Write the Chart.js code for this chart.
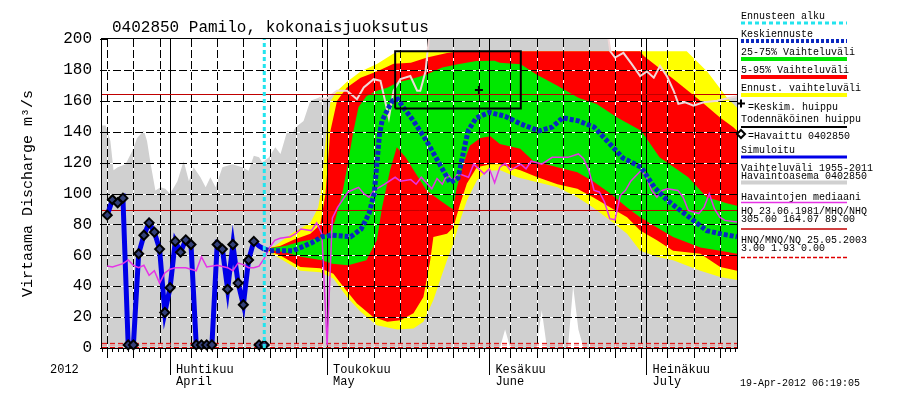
<!DOCTYPE html>
<html>
<head>
<meta charset="utf-8">
<script src="https://cdn.jsdelivr.net/npm/chart.js@4.4.0/dist/chart.umd.min.js"></script>
<style>
  html, body { margin: 0; padding: 0; background: #fff; }
  #wrap { width: 900px; height: 400px; }
</style>
</head>
<body>
<div id="wrap"><canvas id="chart" width="900" height="400"></canvas></div>
<script>
// 0402850 Pamilo, kokonaisjuoksutus - ennuste 19.4.2012
// x axis = days from 1 April 2012 (negative values are March)

const xMin = -13
const xMax = 108.3
const forecastStart = 18

const monthStarts = [0, 30, 61, 91]
const monthLabels = [['Huhtikuu', 'April'], ['Toukokuu', 'May'], ['Kesäkuu', 'June'], ['Heinäkuu', 'July']]
const gridDays = [-12, -7, -2, 4, 9, 14, 19, 24, 29, 34, 39, 44, 49, 54, 59, 65, 70, 75, 80, 85, 90, 95, 100, 105]
const yTicks = [0, 20, 40, 60, 80, 100, 120, 140, 160, 180, 200]

// Vaihteluväli 1955-2011 (max / min)
const histMaxDays = [-13, -12.3, -11.4, -10.8, -10, -8.5, -7.2, -6.3, -5, -4.4, -3.7, -2.8, -1.8, -0.9, 0, 1.4, 2.6, 3.6, 4.5, 5.8,
  6.8, 7.7, 8.7, 10, 11.9, 13.8, 15, 16, 17, 17.6, 18.9, 20.1, 21.1, 22.4, 23.3, 24, 25.5, 26.8, 28.4, 29.7,
  31.9, 33.8, 35.7, 37, 38.9, 40.2, 41.8, 42.7, 44, 45.9, 47.2, 47.8, 48.8, 49.4, 50.1, 55, 62, 70, 78, 83.1,
  84.1, 85, 86.6, 88.2, 89.8, 91.1, 92.4, 93.6, 94.9, 96.2, 97.1, 98.4, 100, 101.9, 104.5, 107, 108.3]
const histMaxValues = [144, 144, 134, 115, 117, 119, 127.7, 136, 140.6, 134, 119, 102, 104, 103, 99.7, 108, 121, 108, 117, 110.5,
  104, 110.5, 104, 117, 119, 117, 114.8, 124.5, 123.4, 120, 123.4, 130, 125.6, 140.6, 138.5, 142.8, 147, 160, 162, 161,
  166.5, 166.5, 161, 168.6, 174, 173, 149, 166.5, 174, 176, 166.5, 166.5, 179, 198.7, 215, 245, 270, 250, 235, 215,
  192, 188, 191, 183.7, 176, 179, 175, 182.6, 176, 166.5, 158, 159, 156.8, 159, 160, 162, 163]
const histMinDays = [-13, 63, 64, 65, 70, 71, 72, 76, 77, 78, 79, 108.3]
const histMinValues = [0, 0, 12, 0, 0, 24.5, 0, 0, 40, 12, 0, 0]

// Ennust. vaihteluväli
const yellowHiDays = [18, 20, 21.5, 23.6, 26.8, 28.3, 29, 29.6, 30.2, 30.7, 31.8, 33.7, 36.4, 39.6, 42.7, 44.6, 98.7, 102.6, 106.4, 108.3]
const yellowHiValues = [64, 66, 69.7, 75, 81, 91, 105, 130, 150, 160, 166, 172, 179, 184, 190.6, 192, 192, 179, 162, 155.5]
const yellowLoDays = [18, 21, 24.9, 28.7, 31.2, 33.8, 36.4, 39.5, 43.4, 46.5, 48.4, 50.3, 51.6, 52.9, 54.1, 55.4, 56.7, 58.6, 60.5,
  63.1, 66.3, 69.4, 74, 77.8, 80.8, 84.1, 87.3, 89.8, 93, 96.1, 101.3, 105.1, 108.3]
const yellowLoValues = [64, 58, 50, 49, 45, 33, 23.4, 14.8, 12, 12.7, 17, 31, 44, 56.8, 67.5, 82.6, 95.5, 108.4, 114.8,
  115, 110.5, 108, 104, 97.6, 91, 82.6, 74, 63, 59, 56.8, 50, 46, 44]

// 5-95% vaihteluväli
const redHiDays = [18, 21, 23.6, 26.8, 28.7, 29.7, 30.6, 31.9, 33.8, 36.4, 39.5, 42.7, 46, 49.1, 52.9, 55.4, 89.8, 90.5, 96.2, 101.3, 105.1, 107.6, 108.3]
const redHiValues = [64, 66, 70, 74, 80, 100, 140, 160, 168.6, 175, 179, 184, 184.7, 188, 191, 192, 192, 189, 174, 160, 149, 142.8, 140.6]
const redLoDays = [18, 21, 24.9, 28.7, 31.2, 33.1, 35.7, 38.8, 41.5, 44, 46.5, 48.4, 49.7, 50.3, 52.9, 54.1, 55.4, 56.7, 58.6, 61.2,
  63, 66.9, 70.2, 74, 77.8, 80.8, 84.1, 87.3, 89.8, 93, 96.1, 101.3, 105.1, 108.3]
const redLoValues = [64, 60, 52.5, 51.6, 48, 39.6, 28.8, 20, 17, 18, 22.5, 33, 56.8, 71.8, 74, 78, 93, 106.5, 117, 119,
  119, 115, 110.5, 106, 103, 97.6, 91, 84.7, 76, 69.7, 63, 61, 52.5, 50]

// 25-75% vaihteluväli
const greenHiDays = [18, 22, 25, 28.5, 30.5, 31.5, 33, 34, 35, 36, 37.5, 39.5, 41.5, 43.5, 46, 49, 52, 55, 58.5, 62, 63, 67,
  70, 74, 78, 81.5, 85.5, 90, 93.5, 99, 102.5, 106.5, 108.3]
const greenHiValues = [64, 66, 69, 71, 75, 82, 102, 120, 140, 156, 163, 166.5, 168.5, 172, 174, 177, 181.5, 183.7, 185.8, 186, 184.7, 183.7,
  177, 169.7, 162, 158, 149, 140.6, 123.4, 110.5, 97.6, 93.5, 92]
const greenLoDays = [18, 22, 25, 29, 31, 34, 37.5, 39.5, 40.5, 42, 43.3, 45, 47, 49, 51.6, 53.5, 54, 54.8, 56, 57.3, 59.3, 61.2,
  63, 66.9, 69.4, 74, 77.8, 80.8, 84.1, 87.3, 89.8, 93, 96.1, 101.3, 105.1, 108.3]
const greenLoValues = [64, 62, 59, 56.8, 54.6, 53.5, 56.8, 69.7, 91, 114.8, 130, 123.4, 112.7, 102, 95.5, 91, 90, 104, 119, 131, 136, 137,
  132, 129, 121, 117, 113.8, 108, 100, 91, 84.7, 78, 71.8, 65, 63, 61]

// Keskiennuste
const meanDays = [18, 19, 23.5, 27, 29, 31, 34.5, 36.5, 38, 39, 39.5, 40, 40.5, 41.5, 42.5, 43.5, 44.5, 46.5, 49, 51.5, 53.5, 55,
  56.5, 57, 58.5, 61, 64, 67, 70.5, 73, 75, 78, 81, 83.5, 86.5, 90, 92.5, 95, 97.5, 100, 102.5, 105, 108.3]
const meanValues = [64, 63, 63, 68, 72, 73, 72, 77, 87, 100, 119, 138, 147, 154, 160, 161, 156, 147, 134, 119, 107, 110,
  134, 141, 149, 152.5, 150, 145, 140.5, 143, 149, 147, 143, 134, 123, 117, 104, 95.5, 89, 82.5, 76, 74, 72]

// Havaintojen mediaani
const medianDays = [-12, -11, -9, -8, -7, -6, -5, -4, -3, -2, -1, 0, 1, 3, 5, 6, 7, 9, 11, 12, 13, 14, 15, 16, 17, 18, 19, 20,
  21, 23, 24, 25, 27, 28, 29, 30, 31, 32, 34, 36, 37, 38, 39, 41, 43, 44, 46, 47, 48, 50, 51, 52, 53, 54, 55, 57, 58, 60,
  61, 62, 63, 64, 65, 67, 68, 69, 71, 73, 76, 78, 79, 80, 81, 82, 83, 84, 85, 86, 87, 88, 90, 91, 92, 93, 94, 95, 97, 98,
  99, 100, 101, 102, 103, 104, 105, 106, 108.3]
const medianValues = [53, 52.5, 54.6, 57, 53.5, 52, 53.5, 47, 50, 42, 48.6, 51, 52, 52, 50, 59, 52.5, 53.5, 52, 50, 55, 54, 52, 52, 53, 58, 65, 69.7,
  71, 72, 74, 77, 76, 81, 74, 2, 84, 91, 101, 104, 100, 97.6, 102, 106, 110.5, 108, 109, 106, 110.5, 103, 109.7, 106, 112.7, 108, 113, 110.5, 119, 112.7,
  116, 107, 117, 119.5, 115, 119, 116, 121, 119, 123.4, 123.4, 125.6, 122.6, 115, 102, 101, 94.4, 83.7, 83, 98.7, 102, 108, 115, 110.5, 102, 97.6, 102, 103, 102, 97.6,
  89, 88, 87, 91, 99.8, 90, 84.7, 82.6, 81.5]

// Havaittu / Simuloitu
const obsDays = [-12, -11, -10, -9, -8, -7, -6, -5, -4, -3, -2, -1, 0, 1, 2, 3, 4, 5, 6, 7, 8, 9, 10, 11, 12, 13, 14, 15, 16, 17, 18]
const obsValues = [86, 96, 94, 97, 2, 2, 61, 73, 81, 75, 64, 23, 39, 69, 62, 70, 67, 2, 2, 2, 2, 67, 64, 38, 67, 42, 28, 57, 69, 2, 2]
const simValues = [86, 96, 94, 97, 2, 2, 61, 73, 81, 75, 64, 23, 39, 69, 62, 70, 67, 2, 2, 2, 2, 67, 64, 38, 67, 42, 28, 57, 69, 66, 64]

// HQ/MHQ/NHQ and HNQ/MNQ/NQ
const mhq = 164.07
const nhq = 89
const hnq = 3.0
const mnq = 1.93
const nq = 0

// Todennäköinen huippu (box) and Keskim. huippu
const peakBoxDays = [43, 43, 67, 67, 43]
const peakBoxValues = [155, 192, 192, 155, 155]
const peakMeanDay = 59
const peakMeanValue = 167

const mono = "'Liberation Mono', 'DejaVu Sans Mono', monospace"

const pts = (days, values) => days.map((d, i) => ({ x: d, y: values[i] }))

function series(label, days, values, style) {
    return Object.assign({
        label,
        data: pts(days, values),
        pointRadius: 0,
        borderWidth: 0,
        borderColor: 'transparent',
        tension: 0,
        fill: false,
        clip: 0
    }, style)
}

// light edge of the historical max only shows where it crosses the forecast bands
const maxLineFrom = histMaxDays.findIndex(d => d >= 28)

const datasets = [
    series('Vaihteluväli max', histMaxDays, histMaxValues, { fill: '+1', backgroundColor: '#d0d0d0', order: 100 }),
    series('Vaihteluväli min', histMinDays, histMinValues, { order: 99 }),
    series('Ennust. max', yellowHiDays, yellowHiValues, { fill: '+1', backgroundColor: '#ffff00', order: 90 }),
    series('Ennust. min', yellowLoDays, yellowLoValues, { order: 89 }),
    series('95%', redHiDays, redHiValues, { fill: '+1', backgroundColor: '#ff0000', order: 80 }),
    series('5%', redLoDays, redLoValues, { order: 79 }),
    series('75%', greenHiDays, greenHiValues, { fill: '+1', backgroundColor: '#00e800', order: 70 }),
    series('25%', greenLoDays, greenLoValues, { order: 69 }),
    series('max line', histMaxDays.slice(maxLineFrom), histMaxValues.slice(maxLineFrom), { borderColor: '#efd8d8', borderWidth: 2, order: 60 }),
    series('MHQ', [xMin, xMax], [mhq, mhq], { borderColor: '#c00000', borderWidth: 1, order: 58 }),
    series('NHQ', [xMin, xMax], [nhq, nhq], { borderColor: '#c00000', borderWidth: 1, order: 58 }),
    series('HNQ', [xMin, xMax], [hnq, hnq], { borderColor: '#e00000', borderWidth: 1, borderDash: [5, 3], order: 57 }),
    series('MNQ', [xMin, xMax], [mnq, mnq], { borderColor: '#f08080', borderWidth: 1, borderDash: [5, 3], order: 57 }),
    series('NQ', [xMin, xMax], [nq, nq], { borderColor: '#e00000', borderWidth: 2, borderDash: [5, 3], order: 57 }),
    series('Simuloitu', obsDays, simValues, { borderColor: '#0000e8', borderWidth: 5, order: 52 }),
    series('Havaintojen mediaani', medianDays, medianValues, { borderColor: '#e633e6', borderWidth: 1.5, order: 50 }),
    series('Keskiennuste', meanDays, meanValues, { borderColor: '#0a28c0', borderWidth: 5, borderDash: [4, 2], order: 35 }),
    series('Havaittu', obsDays, obsValues, {
        showLine: false, pointRadius: 4.5, pointStyle: 'rectRot', pointBorderColor: '#000',
        pointBorderWidth: 2, pointBackgroundColor: '#33407a', order: 30, clip: false
    }),
    series('Todennäköinen huippu', peakBoxDays, peakBoxValues, { borderColor: '#000', borderWidth: 2, order: 20 }),
    series('Keskim. huippu', [peakMeanDay], [peakMeanValue], {
        showLine: false, pointRadius: 4, pointStyle: 'cross', pointBorderColor: '#000', pointBorderWidth: 2, order: 19
    }),
    series('Ennusteen alku', [forecastStart, forecastStart], [0, 200], { borderColor: '#22e4ee', borderWidth: 3, borderDash: [4, 3], order: 10 })
]

// grid goes on top of the bands but under the lines
const gridPlugin = {
    id: 'hydroGrid',
    afterDatasetDraw(chart, args) {
        if (args.index !== 7) return
        const { ctx, chartArea: a, scales: { x, y } } = chart
        ctx.save()
        ctx.beginPath()
        ctx.rect(a.left, a.top, a.width, a.height)
        ctx.clip()
        ctx.lineWidth = 1
        const seg = (x1, y1, x2, y2, dashed) => {
            if (dashed) {
                ctx.setLineDash([])
                ctx.strokeStyle = '#fff'
                ctx.beginPath(); ctx.moveTo(x1, y1); ctx.lineTo(x2, y2); ctx.stroke()
                ctx.setLineDash([8, 3])
            } else {
                ctx.setLineDash([])
            }
            ctx.strokeStyle = '#000'
            ctx.beginPath(); ctx.moveTo(x1, y1); ctx.lineTo(x2, y2); ctx.stroke()
        }
        yTicks.slice(1, -1).forEach(v => {
            const py = Math.round(y.getPixelForValue(v)) + 0.5
            seg(a.left, py, a.right, py, true)
        })
        gridDays.forEach(d => {
            const px = Math.round(x.getPixelForValue(d)) + 0.5
            seg(px, a.top, px, a.bottom, true)
        })
        monthStarts.forEach(d => {
            const px = Math.round(x.getPixelForValue(d)) + 0.5
            seg(px, a.top, px, a.bottom, false)
        })
        ctx.restore()
    }
}

const legendRows = [
    { text: ['Ennusteen alku'], ty: 16.5, ly: 23, color: '#22e4ee', width: 3, dash: [4, 3] },
    { text: ['Keskiennuste'], ty: 34.5, ly: 41, color: '#0a28c0', width: 4, dash: [3, 2] },
    { text: ['25-75% Vaihteluväli'], ty: 52, ly: 59, color: '#00e800', width: 4 },
    { text: ['5-95% Vaihteluväli'], ty: 70, ly: 77, color: '#ff0000', width: 4 },
    { text: ['Ennust. vaihteluväli'], ty: 88.5, ly: 95, color: '#ffff00', width: 4 },
    { text: ['=Keskim. huippu'], ty: 107, tx: 748, marker: 'plus', my: 103.5 },
    { text: ['Todennäköinen huippu'], ty: 119, ly: 127, color: '#000', width: 2 },
    { text: ['=Havaittu 0402850'], ty: 136.5, tx: 748, marker: 'diamond', my: 134 },
    { text: ['Simuloitu'], ty: 150, ly: 157, color: '#0000e8', width: 3 },
    { text: ['Vaihteluväli 1955-2011', 'Havaintoasema 0402850'], ty: 168, ly: 182.5, color: '#d0d0d0', width: 4 },
    { text: ['Havaintojen mediaani'], ty: 197, ly: 202.5, color: '#e633e6', width: 1.5 },
    { text: ['HQ 23.06.1981/MHQ/NHQ', '305.00 164.07 89.00'], ty: 211, ly: 229, color: '#c00000', width: 1.5 },
    { text: ['HNQ/MNQ/NQ 25.05.2003', '3.00 1.93 0.00'], ty: 240, ly: 257.5, color: '#e00000', width: 1.5, dash: [4, 2] }
]

const textPlugin = {
    id: 'textLayer',
    afterDraw(chart) {
        const { ctx, chartArea: a, scales: { x, y } } = chart
        ctx.save()
        ctx.strokeStyle = '#000'
        ctx.lineWidth = 1
        ctx.setLineDash([])
        ctx.strokeRect(a.left - 0.5, a.top - 0.5, a.width + 1, a.height + 1)

        // y ticks
        yTicks.forEach(v => {
            const py = Math.round(y.getPixelForValue(v)) + 0.5
            ctx.beginPath(); ctx.moveTo(a.left - 2, py); ctx.lineTo(a.left + 5, py); ctx.stroke()
        })
        // x ticks: every day, longer every 5 days, longest on month start
        for (let d = xMin; d <= Math.floor(xMax); d++) {
            const px = Math.round(x.getPixelForValue(d)) + 0.5
            let len = 4
            if (gridDays.includes(d)) len = 10
            if (monthStarts.includes(d)) len = 27
            ctx.beginPath(); ctx.moveTo(px, a.bottom); ctx.lineTo(px, a.bottom + len); ctx.stroke()
        }

        ctx.fillStyle = '#000'
        ctx.textBaseline = 'middle'
        ctx.textAlign = 'left'

        ctx.font = '16px ' + mono
        ctx.fillText('0402850 Pamilo, kokonaisjuoksutus', 112, 28)

        ctx.font = '12px ' + mono
        ctx.fillText('2012', 50, 370)
        monthStarts.forEach((d, i) => {
            const px = x.getPixelForValue(d) + 6
            ctx.fillText(monthLabels[i][0], px, 369.5)
            ctx.fillText(monthLabels[i][1], px, 381.5)
        })

        ctx.font = '10px ' + mono
        ctx.fillText('19-Apr-2012 06:19:05', 740, 383)

        // legend
        legendRows.forEach(r => {
            ctx.fillStyle = '#000'
            r.text.forEach((t, i) => ctx.fillText(t, r.tx || 741, r.ty + i * 8.5))
            if (r.marker === 'plus') {
                ctx.lineWidth = 2
                ctx.strokeStyle = '#000'
                ctx.setLineDash([])
                ctx.beginPath()
                ctx.moveTo(737, r.my); ctx.lineTo(745, r.my)
                ctx.moveTo(741, r.my - 4); ctx.lineTo(741, r.my + 4)
                ctx.stroke()
            } else if (r.marker === 'diamond') {
                ctx.lineWidth = 2
                ctx.strokeStyle = '#000'
                ctx.setLineDash([])
                ctx.fillStyle = '#fff'
                ctx.beginPath()
                ctx.moveTo(741, r.my - 4); ctx.lineTo(745, r.my); ctx.lineTo(741, r.my + 4); ctx.lineTo(737, r.my); ctx.closePath()
                ctx.fill(); ctx.stroke()
            } else {
                ctx.lineWidth = r.width
                ctx.strokeStyle = r.color
                ctx.setLineDash(r.dash || [])
                ctx.beginPath(); ctx.moveTo(741, r.ly); ctx.lineTo(847, r.ly); ctx.stroke()
            }
        })
        ctx.restore()
    }
}

new Chart(document.getElementById('chart'), {
    type: 'line',
    data: { datasets },
    options: {
        responsive: false,
        animation: false,
        events: [],
        layout: { padding: { top: 39, right: 163, left: 0, bottom: 0 } },
        plugins: {
            legend: { display: false },
            tooltip: { enabled: false },
            title: { display: false }
        },
        scales: {
            x: {
                type: 'linear',
                min: xMin,
                max: xMax,
                ticks: { display: false },
                grid: { display: false, drawTicks: false },
                border: { display: false },
                afterFit: s => { s.height = 52 }
            },
            y: {
                min: 0,
                max: 200,
                afterBuildTicks: s => { s.ticks = yTicks.map(v => ({ value: v })) },
                ticks: { color: '#000', padding: 10, font: { family: mono, size: 16 } },
                grid: { display: false, drawTicks: false },
                border: { display: false },
                title: {
                    display: true,
                    text: 'Virtaama Discharge m³/s',
                    color: '#000',
                    font: { family: mono, size: 15 },
                    padding: { top: 19, bottom: 0 }
                },
                afterFit: s => { s.width = 102 }
            }
        }
    },
    plugins: [gridPlugin, textPlugin]
})
</script>
</body>
</html>
